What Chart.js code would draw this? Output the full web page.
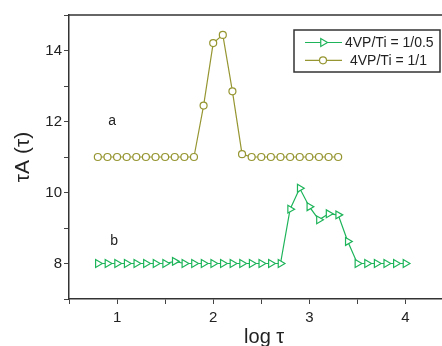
<!DOCTYPE html>
<html>
  <head>
    <meta charset="utf-8">
    <script src="https://cdn.jsdelivr.net/npm/chart.js@4.4.1/dist/chart.umd.min.js"></script>
    <style>
      html, body { margin: 0; padding: 0; background: #fff; overflow: hidden; }
      /* plot runs a little past the right edge of the window, like the original crop */
      #wrap { width: 465px; height: 346px; }
    </style>
  </head>
  <body>
    <div id="wrap">
      <canvas id="tau"></canvas>
    </div>
    <script>
      // series a : 4VP/Ti = 1/1
      var xA = [0.8, 0.9, 1.0, 1.1, 1.2, 1.3, 1.4, 1.5, 1.6, 1.7, 1.8, 1.9, 2.0, 2.1, 2.2, 2.3, 2.4, 2.5, 2.6, 2.7, 2.8, 2.9, 3.0, 3.1, 3.2, 3.3];
      var yA = [11, 11, 11, 11, 11, 11, 11, 11, 11, 11, 11, 12.45, 14.21, 14.44, 12.85, 11.08, 11, 11, 11, 11, 11, 11, 11, 11, 11, 11];
      // series b : 4VP/Ti = 1/0.5
      var xB = [0.8, 0.9, 1.0, 1.1, 1.2, 1.3, 1.4, 1.5, 1.6, 1.7, 1.8, 1.9, 2.0, 2.1, 2.2, 2.3, 2.4, 2.5, 2.6, 2.7, 2.8, 2.9, 3.0, 3.1, 3.2, 3.3, 3.4, 3.5, 3.6, 3.7, 3.8, 3.9, 4.0];
      var yB = [8, 8, 8, 8, 8, 8, 8, 8, 8.06, 8, 8, 8, 8, 8, 8, 8, 8, 8, 8, 8, 9.53, 10.12, 9.6, 9.23, 9.4, 9.37, 8.62, 8, 8, 8, 8, 8, 8];
      var seriesNames = ['4VP/Ti = 1/0.5', '4VP/Ti = 1/1'];
      // curve letters, in data coordinates
      var noteText = ['a', 'b'];
      var noteX = [0.95, 0.97];
      var noteY = [12.0, 8.63];

      var GREEN = 'rgb(30,180,90)';
      var OLIVE = 'rgb(150,150,50)';
      var FONT = '"Liberation Sans", Arial, sans-serif';

      function pts(xs, ys) {
        return xs.map(function(x, i) { return {x: x, y: ys[i]}; });
      }

      var extras = {
        id: 'extras',
        afterDraw: function(chart) {
          var ctx = chart.ctx, a = chart.chartArea;
          var sx = chart.scales.x, sy = chart.scales.y;
          ctx.save();
          // top frame line
          ctx.strokeStyle = '#333';
          ctx.lineWidth = 1.5;
          ctx.beginPath();
          ctx.moveTo(a.left, a.top);
          ctx.lineTo(a.right, a.top);
          ctx.stroke();

          // curve letters
          ctx.fillStyle = '#222';
          ctx.font = '14px ' + FONT;
          ctx.textAlign = 'center';
          ctx.textBaseline = 'middle';
          noteText.forEach(function(t, i) {
            ctx.fillText(t, sx.getPixelForValue(noteX[i]), sy.getPixelForValue(noteY[i]));
          });

          // legend box
          var bx = 294, by = 30, bw = 146, bh = 42;
          ctx.fillStyle = '#fff';
          ctx.fillRect(bx, by, bw, bh);
          ctx.lineWidth = 1.5;
          ctx.strokeStyle = '#333';
          ctx.strokeRect(bx, by, bw, bh);
          ctx.textAlign = 'left';
          ctx.font = '14px ' + FONT;
          chart.data.datasets.forEach(function(ds, i) {
            var ly = by + 12.5 + i * 17.8;
            ctx.strokeStyle = ds.borderColor;
            ctx.lineWidth = 1.2;
            ctx.beginPath();
            ctx.moveTo(bx + 11, ly);
            ctx.lineTo(bx + 48, ly);
            ctx.stroke();
            ctx.fillStyle = '#fff';
            Chart.helpers.drawPoint(ctx, {
              pointStyle: ds.pointStyle, rotation: ds.rotation,
              radius: ds.pointRadius, borderWidth: 1.2
            }, bx + 29, ly);
            ctx.fillStyle = '#222';
            ctx.fillText(seriesNames[i], bx + 51 + i * 5, ly + 1);
          });
          ctx.restore();
        }
      };

      new Chart('tau', {
        type: 'scatter',
        data: {
          datasets: [
            {
              label: seriesNames[0],
              data: pts(xB, yB),
              showLine: true,
              borderColor: GREEN,
              backgroundColor: '#fff',
              borderWidth: 1.2,
              pointStyle: 'triangle',
              rotation: 90,
              pointRadius: 4.5,
              pointBorderWidth: 1.2
            },
            {
              label: seriesNames[1],
              data: pts(xA, yA),
              showLine: true,
              borderColor: OLIVE,
              backgroundColor: '#fff',
              borderWidth: 1.2,
              pointStyle: 'circle',
              pointRadius: 3.5,
              pointBorderWidth: 1.2
            }
          ]
        },
        options: {
          responsive: true,
          maintainAspectRatio: false,
          animation: false,
          layout: { padding: { top: 15, right: 0, left: 0, bottom: 0 } },
          plugins: {
            legend: { display: false },
            tooltip: { enabled: false }
          },
          scales: {
            x: {
              type: 'linear',
              min: 0.5,
              max: 4.56,
              afterFit: function(s) { s.height = 47; },
              border: { display: true, color: '#333', width: 1.5 },
              grid: { drawOnChartArea: false, drawTicks: true, tickLength: 5, color: '#444', lineWidth: 1 },
              ticks: {
                stepSize: 0.5,
                includeBounds: false,
                color: '#222',
                padding: 5,
                maxRotation: 0,
                autoSkip: false,
                font: { family: FONT, size: 15 },
                callback: function(v) { return Number.isInteger(v) ? v : ''; }
              },
              title: {
                display: true,
                text: 'log τ',
                color: '#222',
                font: { family: FONT, size: 20 },
                padding: { top: 4, bottom: -3 }
              }
            },
            y: {
              min: 7,
              max: 15,
              afterFit: function(s) { s.width = 69; },
              border: { display: true, color: '#333', width: 1.5 },
              grid: { drawOnChartArea: false, drawTicks: true, tickLength: 5, color: '#444', lineWidth: 1 },
              ticks: {
                stepSize: 1,
                color: '#222',
                padding: 2,
                autoSkip: false,
                font: { family: FONT, size: 15 },
                callback: function(v) { return v % 2 === 0 ? v : ''; }
              },
              title: {
                display: true,
                text: 'τA (τ)',
                color: '#222',
                font: { family: FONT, size: 21 },
                padding: { top: 11, bottom: 0 }
              }
            }
          }
        },
        plugins: [extras]
      });
    </script>
  </body>
</html>
